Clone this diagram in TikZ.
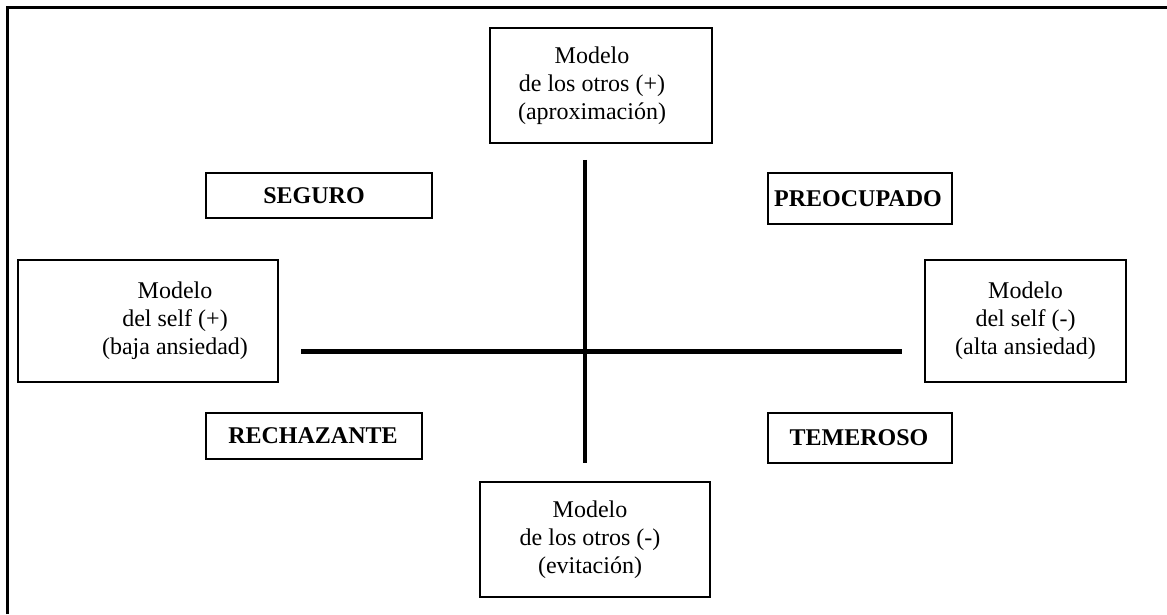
\documentclass[tikz,border=0pt]{standalone}
\usepackage{fontspec}
\setmainfont{Liberation Serif}
\tikzset{
  boxed/.style={draw, line width=2pt, inner sep=0pt},
  modeltext/.style={align=center, inner sep=0pt, font=\fontsize{24}{28}\selectfont},
  styletext/.style={inner sep=0pt, font=\fontsize{24}{28}\selectfont\bfseries},
}
\begin{document}
\begin{tikzpicture}[x=1pt,y=1pt]
    \useasboundingbox (0,0) rectangle (1167,614);
    % frame
    \draw[line width=3pt] (7.5,0) -- (7.5,606.5) -- (1167,606.5);
    % axes
    \coordinate (axtop) at (585,454);
    \coordinate (axbot) at (585,151);
    \coordinate (axleft) at (301,262.5);
    \coordinate (axright) at (902,262.5);
    \draw[line width=4.5pt] (axtop) -- (axbot);
    \draw[line width=4.5pt] (axleft) -- (axright);
    % model boxes
    \node[boxed, minimum width=222, minimum height=115] (othpos) at (601,528.5) {};
    \node[modeltext] (othpostxt) at ([xshift=-9]othpos.center) {Modelo\\de los otros (+)\\(aproximación)};
    \node[boxed, minimum width=230, minimum height=115] (othneg) at (595,74.5) {};
    \node[modeltext] (othnegtxt) at ([xshift=-5]othneg.center) {Modelo\\de los otros (-)\\(evitación)};
    \node[boxed, minimum width=260, minimum height=122] (selfpos) at (148,293) {};
    \node[modeltext] (selfpostxt) at ([xshift=27]selfpos.center) {Modelo\\del self (+)\\(baja ansiedad)};
    \node[boxed, minimum width=201, minimum height=122] (selfneg) at (1025.5,293) {};
    \node[modeltext] (selfnegtxt) at (selfneg.center) {Modelo\\del self (-)\\(alta ansiedad)};
    % attachment styles
    \node[boxed, minimum width=226, minimum height=45] (seguro) at (319,418.5) {};
    \node[styletext] (segurotxt) at ([xshift=-5]seguro.center) {SEGURO};
    \node[boxed, minimum width=184, minimum height=51] (preoc) at (860,415.5) {};
    \node[styletext] (preoctxt) at ([xshift=-2]preoc.center) {PREOCUPADO};
    \node[boxed, minimum width=216, minimum height=46] (rechaz) at (314,178) {};
    \node[styletext] (rechaztxt) at ([xshift=-1]rechaz.center) {RECHAZANTE};
    \node[boxed, minimum width=184, minimum height=50] (temer) at (860,176) {};
    \node[styletext] (temertxt) at ([xshift=-1]temer.center) {TEMEROSO};
\end{tikzpicture}
\end{document}
